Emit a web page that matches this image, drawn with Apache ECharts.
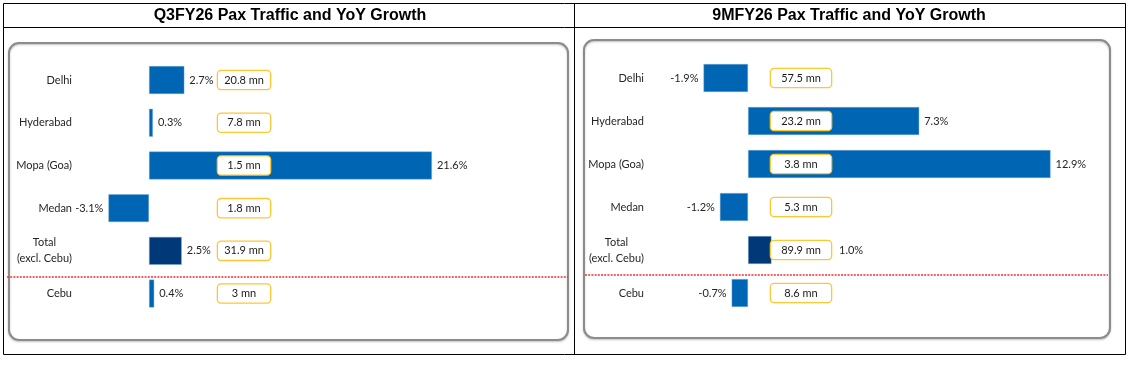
<!DOCTYPE html>
<html>
<head>
<meta charset="utf-8">
<script src="https://cdn.jsdelivr.net/npm/echarts@6/dist/echarts.min.js"></script>
<style>html,body{margin:0;padding:0;background:#fff}#c{width:1130px;height:365px}</style>
</head>
<body>
<div id="c"></div>
<script>
// ---- data ----
const categories = ['Delhi', 'Hyderabad', 'Mopa (Goa)', 'Medan', 'Total\n(excl. Cebu)', 'Cebu'];
const q3Growth = [2.7, 0.3, 21.6, -3.1, 2.5, 0.4];
const q3Pax = [20.8, 7.8, 1.5, 1.8, 31.9, 3];
const m9Growth = [-1.9, 7.3, 12.9, -1.2, 1.0, -0.7];
const m9Pax = [57.5, 23.2, 3.8, 5.3, 89.9, 8.6];
const titles = ['Q3FY26 Pax Traffic and YoY Growth', '9MFY26 Pax Traffic and YoY Growth'];
const totalIndex = 4;

// ---- layout ----
const FONT = 'Lato, "Liberation Sans", sans-serif';
const panels = [
  { growth: q3Growth, pax: q3Pax, left: 96.6, width: 419.2, min: -4, max: 28, top: 58.7, height: 256.2,
    boxCenter: 244, boxW: 54, labelMargin: 24.6, box: [9, 43, 559, 297], sep: [7, 568, 277], titleX: 290 },
  { growth: m9Growth, pax: m9Pax, left: 689.4, width: 398.7, min: -2.5, max: 14.5, top: 56.5, height: 258,
    boxCenter: 801, boxW: 62, labelMargin: 45.4, box: [584, 40, 526, 298], sep: [585, 1108, 275], titleX: 849 }
];

const grids = [], xAxes = [], yAxes = [], series = [], graphics = [];

function catFormatter(v) {
  if (v.indexOf('\n') >= 0) return v.split('\n').map(s => '{c|' + s + '}').join('\n');
  return v;
}

panels.forEach((p, gi) => {
  grids.push({ left: p.left, top: p.top, width: p.width, height: p.height, containLabel: false });
  xAxes.push({ gridIndex: gi, type: 'value', min: p.min, max: p.max, show: false });
  yAxes.push({
    gridIndex: gi, type: 'category', data: categories, inverse: true,
    axisLine: { show: false }, axisTick: { show: false }, splitLine: { show: false },
    axisLabel: {
      interval: 0, margin: p.labelMargin, fontFamily: FONT, fontSize: 11, color: '#262626',
      formatter: catFormatter,
      rich: { c: { width: 55, align: 'center', lineHeight: 16, fontFamily: FONT, fontSize: 11, color: '#262626' } }
    }
  });
  const paxArr = p.pax;
  yAxes.push({
    gridIndex: gi, type: 'category', data: categories, inverse: true, position: 'left',
    offset: p.left - p.boxCenter, z: 10,
    axisLine: { show: false }, axisTick: { show: false }, splitLine: { show: false },
    axisLabel: {
      interval: 0, margin: 0, align: 'center', verticalAlign: 'middle',
      fontFamily: FONT, fontSize: 11, color: '#1a1a1a',
      backgroundColor: '#fff', borderColor: '#FFC633', borderWidth: 1.3, borderRadius: 3,
      width: p.boxW - 2, lineHeight: 14, padding: [2, 0, 2, 0],
      formatter: (v, i) => paxArr[i] + ' mn'
    }
  });
  const scale = p.width / (p.max - p.min);
  const zeroPx = p.left - p.min * scale;
  const boxL = p.boxCenter - p.boxW / 2, boxR = p.boxCenter + p.boxW / 2;
  const data = p.growth.map((v, i) => {
    const pos = v >= 0 ? 'right' : 'left';
    let distance = 5;
    if (v >= 0) {
      const end = zeroPx + v * scale;
      const ls = end + 5;
      if (ls < boxR && ls + 22 > boxL) distance = boxR + 7 - end;
    }
    return {
      value: v,
      itemStyle: { color: i === totalIndex ? '#003878' : '#0066B3' },
      label: { position: pos, distance: distance }
    };
  });
  series.push({
    type: 'bar', xAxisIndex: gi, yAxisIndex: gi * 2, data: data, barWidth: 28,
    itemStyle: { borderColor: 'rgba(120,170,220,0.7)', borderWidth: 0.6 },
    label: { show: true, fontFamily: FONT, fontSize: 11, color: '#262626',
      formatter: d => d.value.toFixed(1) + '%' },
    silent: true, animation: false
  });
  // rounded frame
  graphics.push({ type: 'rect', shape: { x: p.box[0], y: p.box[1], width: p.box[2], height: p.box[3], r: 10 },
    style: { fill: 'none', stroke: '#8c8c8c', lineWidth: 2, shadowBlur: 2, shadowOffsetY: 1, shadowColor: 'rgba(0,0,0,0.25)' }, z: -5 });
  // red dotted separator (drawn as a thin filled strip with a dotted stroke pattern)
  graphics.push({ type: 'line', shape: { x1: p.sep[0], y1: p.sep[2], x2: p.sep[1], y2: p.sep[2] },
    style: { stroke: '#F03030', lineWidth: 1.4, lineDash: [2, 1.2] }, z: 5 });
  // title
  graphics.push({ type: 'text', x: p.titleX, y: 15.5,
    style: { text: titles[gi], fontFamily: 'Arial, "Liberation Sans", sans-serif', fontWeight: 'bold', fontSize: 16,
      fill: '#000', align: 'center', verticalAlign: 'middle' } });
});

// table borders
graphics.push({ type: 'rect', shape: { x: 3.5, y: 3.5, width: 1122, height: 351 },
  style: { fill: 'none', stroke: '#000', lineWidth: 1 }, z: -6 });
graphics.push({ type: 'line', shape: { x1: 3.5, y1: 27.5, x2: 1125.5, y2: 27.5 }, style: { stroke: '#000', lineWidth: 1 }, z: -6 });
graphics.push({ type: 'line', shape: { x1: 574.5, y1: 3.5, x2: 574.5, y2: 354.5 }, style: { stroke: '#000', lineWidth: 1 }, z: -6 });

const chart = echarts.init(document.getElementById('c'), null, { renderer: 'canvas' });
chart.setOption({
  animation: false,
  backgroundColor: '#fff',
  grid: grids, xAxis: xAxes, yAxis: yAxes, series: series, graphic: graphics
});
</script>
</body>
</html>
